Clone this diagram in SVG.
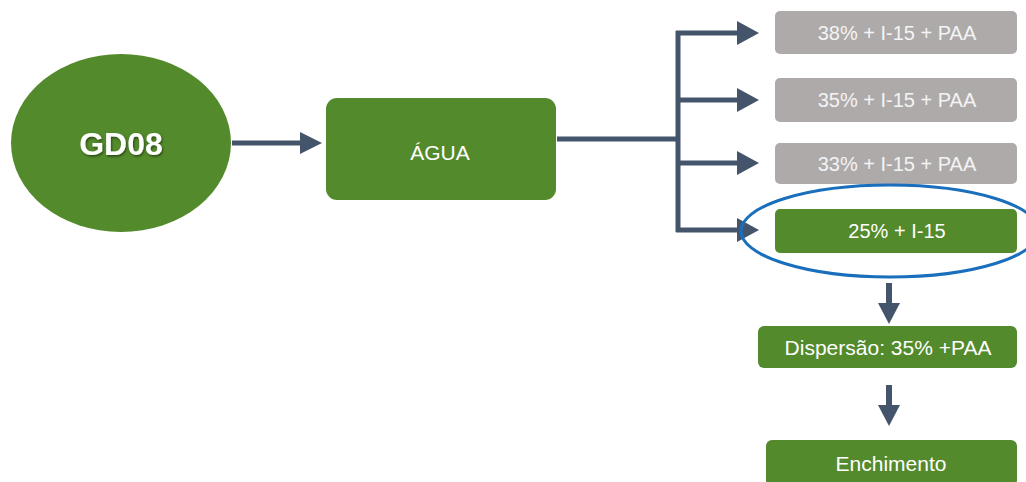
<svg xmlns="http://www.w3.org/2000/svg" width="1026" height="482" viewBox="0 0 1026 482">
<defs>
<style>
.g{fill:#538a2c}
.gr{fill:#aeaaaa}
.t{font-family:"Liberation Sans",Arial,sans-serif;font-size:20px;fill:#ffffff;text-anchor:middle}
.tg{fill:#f4f4f4}
.c{stroke:#44546a;stroke-width:5;fill:none}
.h{fill:#44546a}
</style>
<filter id="sh" x="-20%" y="-20%" width="140%" height="140%">
<feDropShadow dx="1" dy="1.5" stdDeviation="1" flood-color="#000" flood-opacity="0.5"/>
</filter>
</defs>
<rect width="1026" height="482" fill="#ffffff"/>
<g id="connectors">
<line class="c" x1="232" y1="143" x2="302" y2="143"/>
<polygon class="h" points="300,132 322,143 300,154"/>
<polyline class="c" points="557,139 678,139"/>
<line class="c" x1="678" y1="31" x2="678" y2="232"/>
<line class="c" x1="676" y1="33" x2="740" y2="33"/>
<polygon class="h" points="737,21 759,33 737,45"/>
<line class="c" x1="678" y1="100" x2="740" y2="100"/>
<polygon class="h" points="737,88 759,100 737,112"/>
<line class="c" x1="678" y1="163" x2="740" y2="163"/>
<polygon class="h" points="737,151 759,163 737,175"/>
<line class="c" x1="676" y1="230" x2="740" y2="230"/>
<polygon class="h" points="737,218 759,230 737,242"/>
<line class="c" x1="889" y1="283" x2="889" y2="305" style="stroke-width:6"/>
<polygon class="h" points="878,303 889,324 900,303"/>
<line class="c" x1="889" y1="385" x2="889" y2="407" style="stroke-width:6"/>
<polygon class="h" points="878,405 889,426 900,405"/>
</g>
<g id="gd08">
<ellipse class="g" cx="121" cy="143" rx="110" ry="89"/>
<text class="t" x="121" y="155" style="font-size:32px;font-weight:bold" filter="url(#sh)">GD08</text>
</g>
<g id="agua">
<rect class="g" x="326" y="98" width="230" height="102" rx="11"/>
<text class="t" x="440" y="160" style="font-size:21px">ÁGUA</text>
</g>
<g id="n38">
<rect class="gr" x="775" y="11" width="242" height="43" rx="5"/>
<text class="t tg" x="897" y="40">38% + I-15 + PAA</text>
</g>
<g id="n35">
<rect class="gr" x="775" y="78" width="242" height="44" rx="5"/>
<text class="t tg" x="897" y="107">35% + I-15 + PAA</text>
</g>
<g id="n33">
<rect class="gr" x="775" y="143" width="242" height="41" rx="5"/>
<text class="t tg" x="897" y="171">33% + I-15 + PAA</text>
</g>
<g id="n25">
<rect class="g" x="775" y="209" width="242" height="44" rx="5"/>
<text class="t" x="897" y="238">25% + I-15</text>
<ellipse cx="890" cy="231" rx="149" ry="46" fill="none" stroke="#1a6fbd" stroke-width="3"/>
</g>
<g id="dispersao">
<rect class="g" x="758" y="326" width="259" height="42" rx="6"/>
<text class="t" x="888" y="355" style="font-size:21px">Dispersão: 35% +PAA</text>
</g>
<g id="enchimento">
<rect class="g" x="766" y="440" width="251" height="46" rx="6"/>
<text class="t" x="891" y="471" style="font-size:21px">Enchimento</text>
</g>
</svg>
